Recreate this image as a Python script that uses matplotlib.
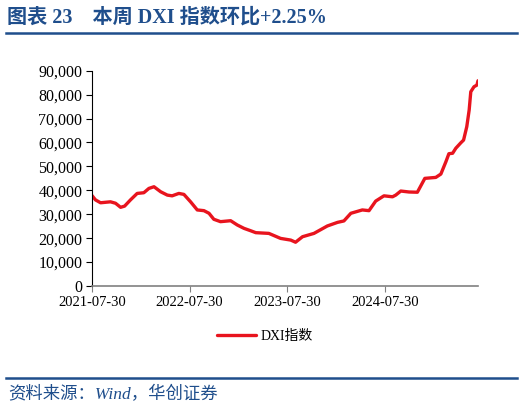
import numpy as np
import pandas as pd
import matplotlib
matplotlib.use("Agg")
import matplotlib.pyplot as plt
import matplotlib.dates as mdates
from matplotlib.ticker import FuncFormatter
from matplotlib.transforms import offset_copy

# DXI index
dates = ["2021-07-30", "2021-08-12", "2021-08-31", "2021-10-07", "2021-10-26",
         "2021-11-14", "2021-11-29", "2021-12-21", "2022-01-15", "2022-02-09",
         "2022-02-28", "2022-03-19", "2022-04-13", "2022-05-08", "2022-05-26",
         "2022-06-20", "2022-07-09", "2022-08-03", "2022-08-28", "2022-09-22",
         "2022-10-11", "2022-10-29", "2022-11-23", "2022-12-31", "2023-01-25",
         "2023-02-19", "2023-03-16", "2023-04-04", "2023-05-23", "2023-07-06",
         "2023-08-13", "2023-08-31", "2023-09-26", "2023-11-08", "2023-12-28",
         "2024-02-04", "2024-02-28", "2024-03-25", "2024-05-07", "2024-06-01",
         "2024-06-26", "2024-07-27", "2024-08-28", "2024-09-09", "2024-09-28",
         "2024-10-29", "2024-11-29", "2024-12-27", "2025-02-06", "2025-02-25",
         "2025-03-16", "2025-03-27", "2025-04-10", "2025-04-22", "2025-05-11",
         "2025-05-21", "2025-06-02", "2025-06-11", "2025-06-17", "2025-06-29",
         "2025-07-10", "2025-07-14"]
dxi = [37800, 36000, 34800, 35200, 34600,
       32900, 33400, 36000, 38700, 39000,
       40800, 41500, 39400, 38000, 37700,
       38700, 38300, 35200, 31800, 31500,
       30400, 27900, 26900, 27300, 25500,
       24100, 23100, 22300, 22000, 19900,
       19200, 18300, 20600, 22000, 25100,
       26600, 27200, 30400, 31800, 31500,
       35500, 37700, 37300, 38000, 39700,
       39300, 39200, 45000, 45400, 46800,
       52000, 55300, 55500, 57600, 59900,
       61000, 66600, 73600, 81200, 83300,
       84000, 85800]
tick_dates = ["2021-07-30", "2022-07-30", "2023-07-30", "2024-07-30"]

title_a = "图表 23    本周 DXI 指数环比"
title_b = "+2.25%"
source = "资料来源：Wind，华创证券"
blue = "#1f4e8c"
mixed = ["Liberation Serif", "Noto Sans CJK SC"]

x = pd.to_datetime(dates)

fig = plt.figure(figsize=(5.24, 4.09), dpi=100)
ax = fig.add_axes([0.1756, 0.3007, 0.7366, 0.5264])
ax.plot(x, dxi, color="#e8141e", linewidth=2.4, solid_capstyle="round", label="DXI指数")

ax.set_ylim(0, 90000)
ax.set_yticks(np.arange(0, 90001, 10000))
ax.yaxis.set_major_formatter(FuncFormatter(lambda v, p: f"{int(v):,}"))
ax.set_xlim(x[0], x[-1])
ax.set_xticks(pd.to_datetime(tick_dates))
ax.xaxis.set_major_formatter(mdates.DateFormatter("%Y-%m-%d"))

for s in ["top", "right"]:
    ax.spines[s].set_visible(False)
ax.spines["left"].set_color("black")
ax.spines["bottom"].set_color("#808080")
ax.spines["bottom"].set_linewidth(1.2)
ax.tick_params(axis="y", direction="out", length=4, color="black", pad=3)
ax.tick_params(axis="x", direction="out", length=4, color="#808080", pad=3)
for lab in ax.get_yticklabels():
    lab.set_family("Liberation Serif")
    lab.set_fontsize(11.5)
for lab in ax.get_xticklabels():
    lab.set_family("Liberation Serif")
    lab.set_fontsize(10.5)

leg = fig.legend(loc="center", bbox_to_anchor=(265 / 524, 1 - 336 / 409), frameon=False,
                 prop={"family": mixed, "size": 10},
                 handlelength=2.8, handletextpad=0.3)

t1 = fig.text(7 / 524, 1 - 18 / 409, title_a, fontsize=14.5, fontweight="bold", color=blue,
              family=mixed, va="center", ha="left")
fig.canvas.draw()
w = t1.get_window_extent().width
fig.text(7 / 524, 1 - 18 / 409, title_b, fontsize=14.5, fontweight="bold", color=blue,
         family="Liberation Serif", va="center", ha="left",
         transform=offset_copy(fig.transFigure, fig=fig, x=w, y=0, units="dots"))
fig.add_artist(plt.Line2D([6 / 524, 517 / 524], [1 - 33 / 409] * 2, color=blue, linewidth=1.8))
fig.add_artist(plt.Line2D([6 / 524, 517 / 524], [1 - 378 / 409] * 2, color=blue, linewidth=1.8))
fig.text(8 / 524, 1 - 395 / 409, source, fontsize=12.5, style="italic", color=blue,
         family=mixed, va="center", ha="left")

fig.savefig("out.png", dpi=100)
